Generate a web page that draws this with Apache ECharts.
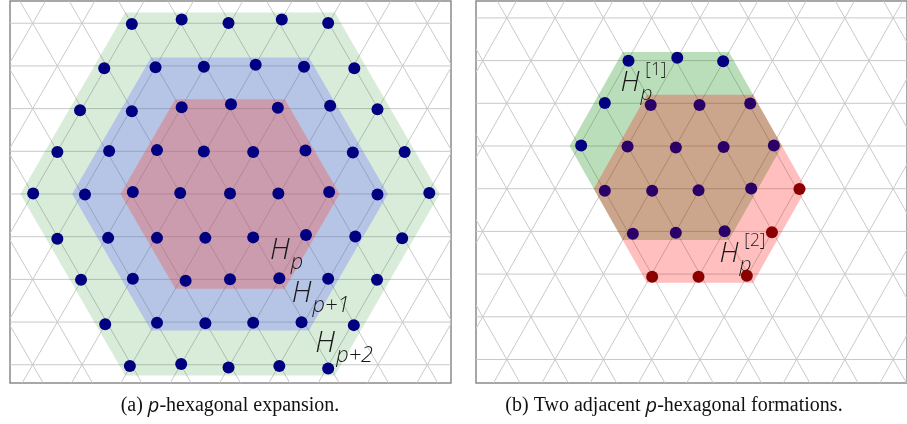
<!DOCTYPE html>
<html><head><meta charset="utf-8">
<script src="https://cdn.jsdelivr.net/npm/echarts@6/dist/echarts.min.js"></script>
<style>html,body{margin:0;padding:0;background:#fff}#c{width:907px;height:424px}</style>
</head><body><div id="c"></div>
<script>
// ---- data (lattice units: 1 = triangle side) ----
const leftDots = [
 [-1.99,3.45],[-0.98,3.54],[-0.03,3.47],[1.05,3.54],[1.99,3.47],
 [-2.55,2.55],[-1.51,2.57],[-0.53,2.58],[0.52,2.62],[1.50,2.58],[2.52,2.55],
 [-3.04,1.70],[-1.99,1.68],[-0.98,1.76],[0.02,1.82],[0.97,1.75],[2.03,1.79],[2.99,1.72],
 [-3.50,0.85],[-2.45,0.87],[-1.48,0.89],[-0.53,0.86],[0.47,0.85],[1.53,0.88],[2.49,0.84],[3.54,0.85],
 [-3.99,0.01],[-2.94,-0.01],[-1.97,0.04],[-1.01,0.02],[0,0.01],[0.98,0.01],[2.01,0.04],[2.99,-0.01],[4.04,0.02],
 [-3.50,-0.91],[-2.47,-0.89],[-1.48,-0.89],[-0.50,-0.89],[0.47,-0.88],[1.54,-0.83],[2.54,-0.86],[3.49,-0.90],
 [-3.02,-1.74],[-1.97,-1.72],[-0.90,-1.76],[0,-1.73],[1.00,-1.71],[1.99,-1.72],[2.98,-1.74],
 [-2.53,-2.64],[-1.48,-2.61],[-0.50,-2.62],[0.47,-2.61],[1.45,-2.60],[2.51,-2.66],
 [-2.03,-3.49],[-0.99,-3.45],[-0.03,-3.52],[1.00,-3.49],[1.99,-3.54]
];
const rightNavyDots = [[-0.98,1.73],[0.03,1.79],[0.98,1.72],[-1.47,0.87],[-1.96,0.01]];
const rightPurpleDots = [
 [-0.52,0.83],[0.49,0.83],[1.54,0.86],
 [-1.00,-0.01],[0,-0.03],[0.99,-0.02],[2.03,0.01],
 [-1.47,-0.91],[-0.49,-0.91],[0.47,-0.90],[1.56,-0.86],
 [-0.89,-1.78],[0,-1.76],[1.01,-1.73]
];
const rightRedDots = [[2.56,-0.87],[1.99,-1.75],[-0.49,-2.65],[0.47,-2.65],[1.47,-2.63]];

// hexagons: [centerX, centerY, radius]
const leftHexes = [[0,0,4.25],[0,0,3.2],[0,0,2.22]];
const leftHexFills = ['rgba(0,128,0,0.15)','rgba(100,103,255,0.30)','rgba(255,63,50,0.30)'];
const rightHexes = [[0,0,2.2],[0.5,-0.866,2.2]];
const rightHexFills = ['rgba(0,128,0,0.27)','rgba(255,0,0,0.25)'];

// labels: [x, y, sub, sup]
const leftLabels = [[1.01,-1.16,'p',''],[1.45,-2.03,'p+1',''],[1.93,-3.04,'p+2','']];
const rightLabels = [[-0.95,1.28,'p','[1]'],[1.10,-2.19,'p','[2]']];

const captions = ['(a) {i|p}-hexagonal expansion.','(b) Two adjacent {i|p}-hexagonal formations.'];

// ---- helpers ----
function latticeSegments(){
  const segs=[], h=Math.sqrt(3)/2, Y=6, t=Y/Math.sqrt(3);
  for(let k=-8;k<=8;k++) segs.push([-14,k*h,14,k*h]);
  for(let n=-16;n<=16;n++){ segs.push([n-t,-Y,n+t,Y]); segs.push([n+t,-Y,n-t,Y]); }
  return segs;
}
function renderSeg(params, api){
  const a=api.coord([api.value(0),api.value(1)]), b=api.coord([api.value(2),api.value(3)]);
  return {type:'line', shape:{x1:a[0],y1:a[1],x2:b[0],y2:b[1]}, style:{stroke:'#c9c9c9', lineWidth:1}};
}
function hexRenderer(fills){
  return function(params, api){
    const cx=api.value(0), cy=api.value(1), R=api.value(2), pts=[];
    for(let i=0;i<6;i++){ const a=Math.PI/3*i; pts.push(api.coord([cx+R*Math.cos(a), cy+R*Math.sin(a)])); }
    return {type:'polygon', shape:{points:pts}, style:{fill:fills[params.dataIndex]}};
  };
}
function labelRenderer(list, size, supDx){
  return function(params, api){
    const it=list[params.dataIndex];
    const p=api.coord([it[0],it[1]]);
    const base={fontFamily:'Open Sans', fontStyle:'italic', fontWeight:300, fill:'#1a1a1a', verticalAlign:'middle'};
    const ch=[{type:'text', x:p[0], y:p[1], style:Object.assign({}, base, {text:'H', fontSize:size, align:'center'})}];
    if(it[2]) ch.push({type:'text', x:p[0]+size*0.38, y:p[1]+size*0.4, style:Object.assign({}, base, {text:it[2], fontSize:size*0.75, align:'left'})});
    if(it[3]) ch.push({type:'text', x:p[0]+size*supDx, y:p[1]-size*0.45, style:Object.assign({}, base, {text:it[3], fontSize:size*0.62, fontStyle:'normal', align:'left'})});
    return {type:'group', children:ch};
  };
}

const segs = latticeSegments();
const chart = echarts.init(document.getElementById('c'), null, {renderer:'canvas'});
chart.setOption({
  animation:false,
  grid:[
    {left:10, top:1, width:441, height:382, show:true, borderColor:'#8a8a8a', borderWidth:1.5, backgroundColor:'transparent'},
    {left:476, top:1, width:440, height:382, show:true, borderColor:'#8a8a8a', borderWidth:1.5, backgroundColor:'transparent'}
  ],
  xAxis:[
    {type:'value', gridIndex:0, min:-4.46, max:4.48, show:false},
    {type:'value', gridIndex:1, min:-4.138, max:4.787, show:false}
  ],
  yAxis:[
    {type:'value', gridIndex:0, min:-3.834, max:3.915, show:false},
    {type:'value', gridIndex:1, min:-4.807, max:2.941, show:false}
  ],
  series:[
    {type:'custom', xAxisIndex:0, yAxisIndex:0, clip:true, z:1, data:segs, renderItem:renderSeg, silent:true},
    {type:'custom', xAxisIndex:1, yAxisIndex:1, clip:true, z:1, data:segs, renderItem:renderSeg, silent:true},
    {type:'custom', xAxisIndex:0, yAxisIndex:0, clip:true, z:2, data:leftHexes, renderItem:hexRenderer(leftHexFills), silent:true},
    {type:'custom', xAxisIndex:1, yAxisIndex:1, clip:true, z:2, data:rightHexes, renderItem:hexRenderer(rightHexFills), silent:true},
    {type:'custom', xAxisIndex:0, yAxisIndex:0, z:3, data:leftLabels.map(d=>[d[0],d[1]]), renderItem:labelRenderer(leftLabels,29,0.5), silent:true},
    {type:'custom', xAxisIndex:1, yAxisIndex:1, z:3, data:rightLabels.map(d=>[d[0],d[1]]), renderItem:labelRenderer(rightLabels,28,0.55), silent:true},
    {type:'scatter', xAxisIndex:0, yAxisIndex:0, z:4, symbolSize:12, data:leftDots, itemStyle:{color:'#000080', opacity:1}},
    {type:'scatter', xAxisIndex:1, yAxisIndex:1, z:4, symbolSize:12, data:rightNavyDots, itemStyle:{color:'#000080', opacity:1}},
    {type:'scatter', xAxisIndex:1, yAxisIndex:1, z:4, symbolSize:12, data:rightPurpleDots, itemStyle:{color:'#2a0068', opacity:1}},
    {type:'scatter', xAxisIndex:1, yAxisIndex:1, z:4, symbolSize:12, data:rightRedDots, itemStyle:{color:'#8b0000', opacity:1}}
  ],
  graphic:[
    {type:'text', x:230, y:406, style:{text:captions[0], fontFamily:'Liberation Serif', fontSize:20, fill:'#111', align:'center', verticalAlign:'middle',
      rich:{i:{fontFamily:'Open Sans', fontStyle:'italic', fontSize:20, fill:'#111'}}}},
    {type:'text', x:674, y:406, style:{text:captions[1], fontFamily:'Liberation Serif', fontSize:20, fill:'#111', align:'center', verticalAlign:'middle',
      rich:{i:{fontFamily:'Open Sans', fontStyle:'italic', fontSize:20, fill:'#111'}}}}
  ]
});
</script></body></html>
